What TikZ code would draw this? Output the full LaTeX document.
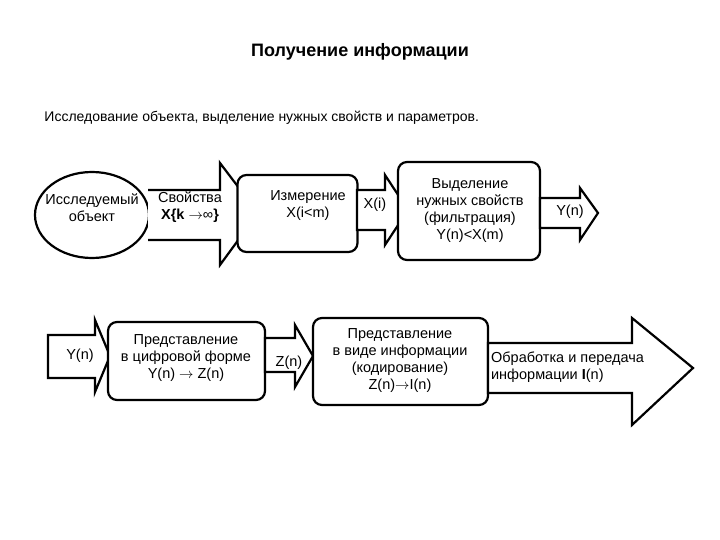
\documentclass[tikz,border=0pt]{standalone}
\usepackage{fontspec}
\setmainfont{Liberation Sans}
\begin{document}
\begin{tikzpicture}[x=1pt,y=-1pt,line width=2.2pt,
  box/.style={draw,rounded corners=9pt,fill=white},
  txt/.style={font=\fontsize{14.5}{17}\selectfont,align=center,inner sep=0pt},
  shp/.style={draw,fill=white,line join=miter}]
\useasboundingbox (0,0) rectangle (720,540);
\node[font=\fontsize{18}{20}\selectfont\bfseries] (title) at (360,52) {Получение информации};
\node[font=\fontsize{14}{16}\selectfont,anchor=west] (sub) at (40,118) {Исследование объекта, выделение нужных свойств и параметров.};
% top row
\draw[shp] (92,215) ellipse [x radius=57, y radius=43];
\draw[shp] (148,190) -- (220,190) -- (220,163) -- (258,213) -- (220,265) -- (220,240) -- (148,240);
\node[txt] (obj) at (92,208) {Исследуемый\\объект};
\node[txt] (prop) at (190,207) {Свойства\\\textbf{X\{k} $\to$∞\textbf{\}}};
\node[box,minimum width=120,minimum height=77] (meas) at (297.5,213.5) {};
\node[txt] (meast) at (308,206) {Измерение\\X(i<m)};
\draw[shp] (357,190) -- (385,190) -- (385,175) -- (408,210) -- (385,245) -- (385,230) -- (357,230) -- cycle;
\node[txt] (xi) at (375,205) {X(i)};
\node[box,minimum width=142,minimum height=98] (filt) at (469,211) {};
\node[txt] (filtt) at (470,211) {Выделение\\нужных свойств\\(фильтрация)\\Y(n)<X(m)};
\draw[shp] (540,198) -- (580,198) -- (580,188) -- (598,213) -- (580,240) -- (580,228) -- (540,228) -- cycle;
\node[txt] (yn1) at (570,212) {Y(n)};
% bottom row
\draw[shp] (48,335) -- (95,335) -- (95,320) -- (110,356) -- (95,392) -- (95,378) -- (48,378) -- cycle;
\node[txt] (yn2) at (80,356) {Y(n)};
\node[box,minimum width=157,minimum height=78] (dig) at (186.5,361) {};
\node[txt] (digt) at (186,358) {Представление\\в цифровой форме\\Y(n) $\to$ Z(n)};
\draw[shp] (265,338) -- (295,338) -- (295,325) -- (313,356) -- (295,387) -- (295,372) -- (265,372) -- cycle;
\node[txt] (zn) at (289,363) {Z(n)};
\node[box,minimum width=175,minimum height=87] (code) at (400.5,361.5) {};
\node[txt] (codet) at (400,361) {Представление\\в виде информации\\(кодирование)\\Z(n)$\to$I(n)};
\draw[shp] (488,343) -- (632,343) -- (632,318) -- (693,368) -- (632,425) -- (632,393) -- (488,393) -- cycle;
\node[txt,align=left,anchor=west] (proc) at (490,367) {Обработка и передача\\информации \textbf{I}(n)};
\end{tikzpicture}
\end{document}
